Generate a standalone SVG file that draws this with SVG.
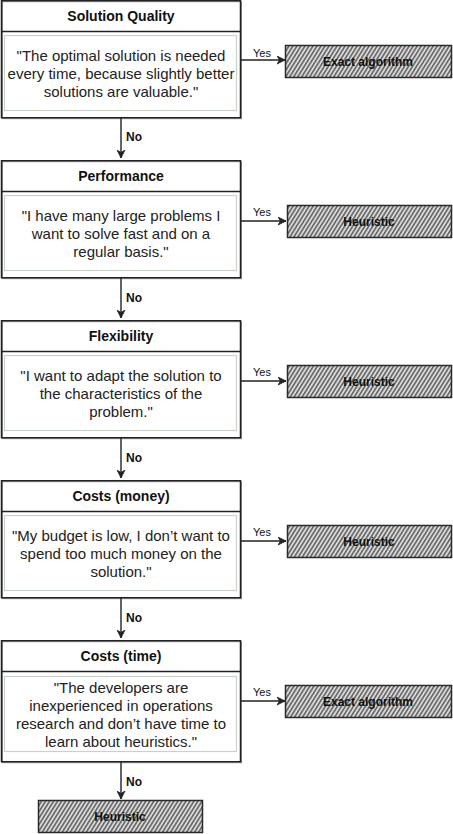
<svg xmlns="http://www.w3.org/2000/svg" width="453" height="834" viewBox="0 0 453 834">
<style>
.outer{fill:#fff;stroke:#222;stroke-width:1.5}
.outer2{fill:none;stroke:#333;stroke-width:0.8;opacity:0.7}
.sep{stroke:#222;stroke-width:1.5}
.inner{fill:#fff;stroke:#c9d2c9;stroke-width:1.2}
.title{font-family:"Liberation Sans",Arial,sans-serif;font-size:14px;font-weight:bold;fill:#111;text-anchor:middle}
.body{font-family:"Liberation Sans",Arial,sans-serif;font-size:15px;fill:#222;text-anchor:middle}
.res{fill:url(#hatch);stroke:#2a2a2a;stroke-width:1.5}
.restxt{font-family:"Liberation Sans",Arial,sans-serif;font-size:12px;font-weight:bold;fill:#111;text-anchor:middle}
.edge{stroke:#222;stroke-width:1.4;fill:none;marker-end:url(#arr)}
.lbl{font-family:"Liberation Sans",Arial,sans-serif;font-size:11px;fill:#111}
.lblb{font-family:"Liberation Sans",Arial,sans-serif;font-size:12px;font-weight:bold;fill:#111}
</style>
<defs>
<pattern id="hatch" width="3.4" height="3.4" patternUnits="userSpaceOnUse" patternTransform="rotate(32)">
<rect width="3.4" height="3.4" fill="#d9d9d9"/>
<line x1="0.8" y1="0" x2="0.8" y2="3.4" stroke="#4a4a4a" stroke-width="1.3"/>
</pattern>
<marker id="arr" markerWidth="9" markerHeight="9" refX="8" refY="4.5" orient="auto" markerUnits="userSpaceOnUse">
<path d="M0,0.5 L8,4.5 L0,8.5 L2.5,4.5 Z" fill="#222" stroke="#222" stroke-width="0.8"/>
</marker>
</defs>

<g id="connectors">
<path class="edge" d="M121,118 L121,158"/>
<path class="edge" d="M121,278 L121,318"/>
<path class="edge" d="M121,438 L121,478"/>
<path class="edge" d="M121,598 L121,638"/>
<path class="edge" d="M121,762 L121,799"/>
<path class="edge" d="M241,60 L285,60"/>
<path class="edge" d="M241,221 L286,221"/>
<path class="edge" d="M241,381 L286,381"/>
<path class="edge" d="M241,541 L286,541"/>
<path class="edge" d="M241,701 L285,701"/>
<text class="lblb" x="126" y="141">No</text>
<text class="lblb" x="126" y="302">No</text>
<text class="lblb" x="126" y="462">No</text>
<text class="lblb" x="126" y="622">No</text>
<text class="lblb" x="126" y="786">No</text>
<text class="lbl" x="253" y="57">Yes</text>
<text class="lbl" x="253" y="216">Yes</text>
<text class="lbl" x="253" y="376">Yes</text>
<text class="lbl" x="253" y="536">Yes</text>
<text class="lbl" x="253" y="696">Yes</text>
</g>

<g id="solution-quality">
<rect class="outer" x="1.5" y="0.75" width="239" height="117"/>
<rect class="outer2" x="2.5" y="1.75" width="239" height="117"/>
<line class="sep" x1="1.5" y1="31.5" x2="240.5" y2="31.5"/>
<text class="title" x="121" y="21">Solution Quality</text>
<rect class="inner" x="4.5" y="35.5" width="232" height="75"/>
<text class="body" x="121" y="61">"The optimal solution is needed</text>
<text class="body" x="121" y="79">every time, because slightly better</text>
<text class="body" x="121" y="97">solutions are valuable."</text>
</g>

<g id="performance">
<rect class="outer" x="1.5" y="160.75" width="239" height="117"/>
<rect class="outer2" x="2.5" y="161.75" width="239" height="117"/>
<line class="sep" x1="1.5" y1="191.5" x2="240.5" y2="191.5"/>
<text class="title" x="121" y="181">Performance</text>
<rect class="inner" x="4.5" y="195.5" width="232" height="75"/>
<text class="body" x="121" y="221">"I have many large problems I</text>
<text class="body" x="121" y="239">want to solve fast and on a</text>
<text class="body" x="121" y="257">regular basis."</text>
</g>

<g id="flexibility">
<rect class="outer" x="1.5" y="320.75" width="239" height="117"/>
<rect class="outer2" x="2.5" y="321.75" width="239" height="117"/>
<line class="sep" x1="1.5" y1="351.5" x2="240.5" y2="351.5"/>
<text class="title" x="121" y="341">Flexibility</text>
<rect class="inner" x="4.5" y="355.5" width="232" height="75"/>
<text class="body" x="121" y="381">"I want to adapt the solution to</text>
<text class="body" x="121" y="399">the characteristics of the</text>
<text class="body" x="121" y="417">problem."</text>
</g>

<g id="costs-money">
<rect class="outer" x="1.5" y="480.75" width="239" height="117"/>
<rect class="outer2" x="2.5" y="481.75" width="239" height="117"/>
<line class="sep" x1="1.5" y1="511.5" x2="240.5" y2="511.5"/>
<text class="title" x="121" y="501">Costs (money)</text>
<rect class="inner" x="4.5" y="515.5" width="232" height="75"/>
<text class="body" x="121" y="541">"My budget is low, I don’t want to</text>
<text class="body" x="121" y="559">spend too much money on the</text>
<text class="body" x="121" y="577">solution."</text>
</g>

<g id="costs-time">
<rect class="outer" x="1.5" y="640.75" width="239" height="121"/>
<rect class="outer2" x="2.5" y="641.75" width="239" height="121"/>
<line class="sep" x1="1.5" y1="671.5" x2="240.5" y2="671.5"/>
<text class="title" x="121" y="661">Costs (time)</text>
<rect class="inner" x="4.5" y="676.5" width="232" height="75"/>
<text class="body" x="121" y="693">"The developers are</text>
<text class="body" x="121" y="711">inexperienced in operations</text>
<text class="body" x="121" y="729">research and don’t have time to</text>
<text class="body" x="121" y="747">learn about heuristics."</text>
</g>

<g id="result-1">
<rect class="res" x="285.5" y="45.5" width="166" height="32"/>
<text class="restxt" x="368" y="66">Exact algorithm</text>
</g>
<g id="result-2">
<rect class="res" x="287.5" y="205.5" width="164" height="32"/>
<text class="restxt" x="369" y="226">Heuristic</text>
</g>
<g id="result-3">
<rect class="res" x="287.5" y="365.5" width="164" height="32"/>
<text class="restxt" x="369" y="386">Heuristic</text>
</g>
<g id="result-4">
<rect class="res" x="287.5" y="525.5" width="164" height="32"/>
<text class="restxt" x="369" y="546">Heuristic</text>
</g>
<g id="result-5">
<rect class="res" x="285.5" y="685.5" width="166" height="32"/>
<text class="restxt" x="368" y="706">Exact algorithm</text>
</g>
<g id="result-6">
<rect class="res" x="38.5" y="800.5" width="164" height="32"/>
<text class="restxt" x="120" y="821">Heuristic</text>
</g>
</svg>
